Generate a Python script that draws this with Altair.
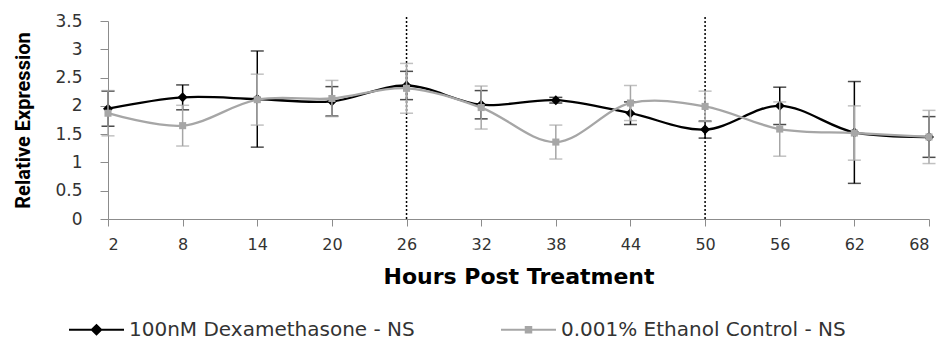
import altair as alt
import pandas as pd

# Time points (hours after treatment)
hours = [2, 8, 14, 20, 26, 32, 38, 44, 50, 56, 62, 68]

# Mean relative expression and error for each treatment
dex_mean = [1.95, 2.15, 2.12, 2.08, 2.36, 2.02, 2.10, 1.87, 1.58, 2.00, 1.53, 1.45]
dex_err = [0.31, 0.22, 0.85, 0.26, 0.25, 0.25, 0.05, 0.20, 0.15, 0.33, 0.90, 0.36]
eth_mean = [1.87, 1.65, 2.11, 2.13, 2.31, 1.97, 1.36, 2.05, 1.99, 1.59, 1.52, 1.45]
eth_err = [0.40, 0.36, 0.45, 0.32, 0.44, 0.38, 0.30, 0.31, 0.27, 0.48, 0.48, 0.47]

y_ticks = [0, 0.5, 1, 1.5, 2, 2.5, 3, 3.5]

series_names = ["100nM Dexamethasone - NS", "0.001% Ethanol Control - NS"]
series_colors = ["#000000", "#a6a6a6"]
# legend symbols: a short line with the marker in its middle
legend_shapes = [
    "M-1,0H1M-0.17,0L0,-0.17L0.17,0L0,0.17Z",
    "M-1,0H1M-0.1,-0.1H0.1V0.1H-0.1Z",
]

# treatment switch times marked by dotted lines
switch_hours = [26, 50]

frames = []
for name, mean, err in [(series_names[0], dex_mean, dex_err),
                        (series_names[1], eth_mean, eth_err)]:
    d = pd.DataFrame({"hours": hours, "value": mean, "err": err})
    d["lo"] = d["value"] - d["err"]
    d["hi"] = d["value"] + d["err"]
    d["series"] = name
    frames.append(d)
df = pd.concat(frames, ignore_index=True)

x_axis = alt.Axis(
    title="Hours Post Treatment",
    values=hours,
    grid=False,
    domainColor="#8c8c8c",
    tickColor="#8c8c8c",
    tickSize=7,
    labelFont="DejaVu Sans",
    labelFontSize=16,
    labelColor="#333333",
    labelPadding=10,
    titleFont="DejaVu Sans",
    titleFontSize=22,
    titleFontWeight="bold",
    titleColor="#000000",
    titlePadding=14,
)
y_axis = alt.Axis(
    title="Relative Expression",
    values=y_ticks,
    format="~g",
    labelOverlap=False,
    grid=False,
    domainColor="#8c8c8c",
    tickColor="#8c8c8c",
    tickSize=8,
    labelFont="DejaVu Sans",
    labelFontSize=17,
    labelColor="#333333",
    labelPadding=18,
    titleFont="Roboto",
    titleFontSize=20,
    titleFontWeight="bold",
    titleColor="#000000",
    titlePadding=21,
)

x_scale = alt.Scale(domain=[2, 68], nice=False, zero=False)
y_scale = alt.Scale(domain=[0, 3.5], nice=False)


def xq():
    return alt.X("hours:Q", scale=x_scale, axis=x_axis)


def yq(field):
    return alt.Y(f"{field}:Q", scale=y_scale, axis=y_axis)


base = alt.Chart(df)


def series_layers(name, color, shape, size):
    sub = base.transform_filter(alt.datum.series == name)
    bars = sub.mark_rule(color=color, strokeWidth=1.5).encode(
        x=xq(), y=yq("lo"), y2="hi:Q"
    )
    cap_lo = sub.mark_tick(color=color, orient="horizontal", size=13, thickness=1.5).encode(
        x=xq(), y=yq("lo")
    )
    cap_hi = sub.mark_tick(color=color, orient="horizontal", size=13, thickness=1.5).encode(
        x=xq(), y=yq("hi")
    )
    line = sub.mark_line(color=color, strokeWidth=2.3, interpolate="catmull-rom").encode(
        x=xq(), y=yq("value")
    )
    pts = sub.mark_point(color=color, filled=True, opacity=1, shape=shape, size=size).encode(
        x=xq(), y=yq("value")
    )
    return [bars, cap_lo, cap_hi, line, pts]


rules = alt.Chart(pd.DataFrame({"hours": switch_hours})).mark_rule(
    color="#000000", strokeDash=[2, 2], strokeWidth=1.5
).encode(
    x=xq(),
    y=alt.Y(datum=0, scale=y_scale, axis=y_axis),
    y2=alt.datum(3.58),
)

series_legend = alt.Legend(
    title=None,
    orient="none",
    direction="horizontal",
    legendX=-40,
    legendY=280,
    symbolSize=3025,
    symbolStrokeWidth=2,
    symbolOpacity=1,
    labelFont="DejaVu Sans",
    labelFontSize=20,
    labelColor="#333333",
    labelOffset=4,
    labelLimit=0,
    columnPadding=82,
)

legend_layer = base.mark_point(filled=True, opacity=0).encode(
    x=xq(),
    y=yq("value"),
    fill=alt.Fill(
        "series:N",
        scale=alt.Scale(domain=series_names, range=series_colors),
        legend=series_legend,
    ),
    stroke=alt.Stroke(
        "series:N",
        scale=alt.Scale(domain=series_names, range=series_colors),
        legend=series_legend,
    ),
    shape=alt.Shape(
        "series:N",
        scale=alt.Scale(domain=series_names, range=legend_shapes),
        legend=series_legend,
    ),
)

layers = [rules]
layers += series_layers(series_names[0], series_colors[0], "diamond", 100)
layers += series_layers(series_names[1], series_colors[1], "square", 50)
layers.append(legend_layer)

chart = alt.layer(*layers).properties(
    width=821,
    height=198,
    autosize=alt.AutoSizeParams(type="none"),
    padding={"left": 108, "top": 21, "right": 21, "bottom": 124},
    background="#ffffff",
).configure_view(stroke=None)

chart.save("out.html", embed_options={"renderer": "svg", "actions": False})
